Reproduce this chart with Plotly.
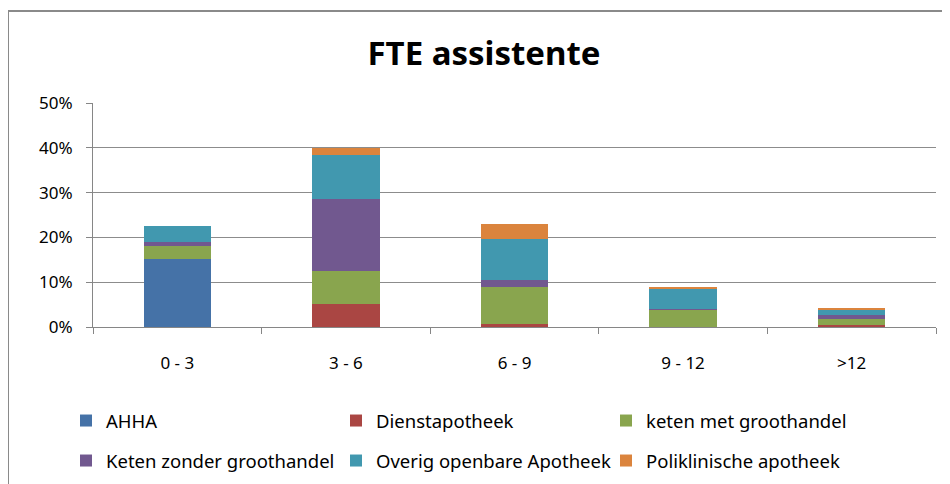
import plotly.graph_objects as go

# categorieen (jaren ervaring) en aandelen in %
categorieen = ["0 - 3", "3 - 6", "6 - 9", "9 - 12", ">12"]
ahha = [15.2, 0.0, 0.0, 0.0, 0.0]
dienstapotheek = [0.0, 5.2, 0.7, 0.1, 0.35]
keten_met = [2.9, 7.4, 8.2, 3.75, 1.5]
keten_zonder = [0.8, 15.9, 1.5, 0.25, 0.75]
overig = [3.7, 10.0, 9.2, 4.4, 1.25]
poliklinisch = [0.0, 1.5, 3.4, 0.5, 0.35]

reeksen = [
    ("AHHA", ahha, "#4572A7", "legend"),
    ("Dienstapotheek", dienstapotheek, "#AA4643", "legend"),
    ("keten met groothandel", keten_met, "#89A54E", "legend"),
    ("Keten zonder groothandel", keten_zonder, "#71588F", "legend2"),
    ("Overig openbare Apotheek", overig, "#4198AF", "legend2"),
    ("Poliklinische apotheek", poliklinisch, "#DB843D", "legend2"),
]

fig = go.Figure()
for naam, waarden, kleur, leg in reeksen:
    fig.add_trace(go.Bar(
        x=categorieen, y=[v / 100 for v in waarden], name=naam,
        marker=dict(color=kleur, line=dict(width=0)), legend=leg,
    ))

# de pagina heeft 8px body-marge; figuur iets hoger dan het venster zodat
# de legenda de marges niet opdrukt (alleen het bovenste deel is zichtbaar)
OFF = 8
W, H = 950 - OFF, 540
# plotgebied op scherm: x 93..936, y 103..327
L, T = 93 - OFF, 103 - OFF
R, B = W - (936 - OFF), H - (327 - OFF)
pw, ph = W - L - R, H - T - B


def px_x(p):
    return (p - OFF - L) / pw


def px_y(p):
    return (H - B - (p - OFF)) / ph


def cont_x(p):
    return (p - OFF) / W


def cont_y(p):
    return 1 - (p - OFF) / H


legend_font = dict(family="Noto Sans, Arial", size=18.5, color="#000000")
leg_common = dict(orientation="h", entrywidth=225, entrywidthmode="pixels",
                  font=legend_font, bgcolor="rgba(0,0,0,0)", xanchor="left",
                  yanchor="middle", itemclick=False, traceorder="normal")

fig.update_layout(
    width=W, height=H,
    margin=dict(l=L, r=R, t=T, b=B),
    paper_bgcolor="white", plot_bgcolor="white",
    barmode="stack", bargap=0.6,
    title=dict(text="<b>FTE assistente</b>", x=cont_x(484), xanchor="center",
               y=cont_y(53), yanchor="middle",
               font=dict(family="Noto Sans, Arial", size=33, color="#000000")),
    font=dict(family="Noto Sans, Arial", size=17, color="#000000"),
    legend=dict(x=px_x(66), y=px_y(421), **leg_common),
    legend2=dict(x=px_x(66), y=px_y(461), **leg_common),
    xaxis=dict(showline=True, linecolor="#868686", linewidth=1,
               ticks="outside", tickson="boundaries", ticklen=6, tickcolor="#868686",
               ticklabelstandoff=21, tickfont=dict(size=17), showgrid=False),
    yaxis=dict(range=[0, 0.5], dtick=0.1, tickformat=".0%",
               showline=True, linecolor="#868686", linewidth=1,
               ticks="outside", ticklen=6, tickcolor="#868686",
               showgrid=True, gridcolor="#8c8c8c", gridwidth=1,
               ticklabelstandoff=10, tickfont=dict(size=17), zeroline=False),
    shapes=[
        dict(type="line", xref="paper", yref="paper", x0=px_x(8), x1=px_x(960),
             y0=px_y(11), y1=px_y(11), line=dict(color="#8a8a8a", width=2)),
        dict(type="line", xref="paper", yref="paper", x0=px_x(8), x1=px_x(8),
             y0=px_y(11), y1=px_y(540), line=dict(color="#8a8a8a", width=2)),
    ],
)

fig.write_html("out.html")
